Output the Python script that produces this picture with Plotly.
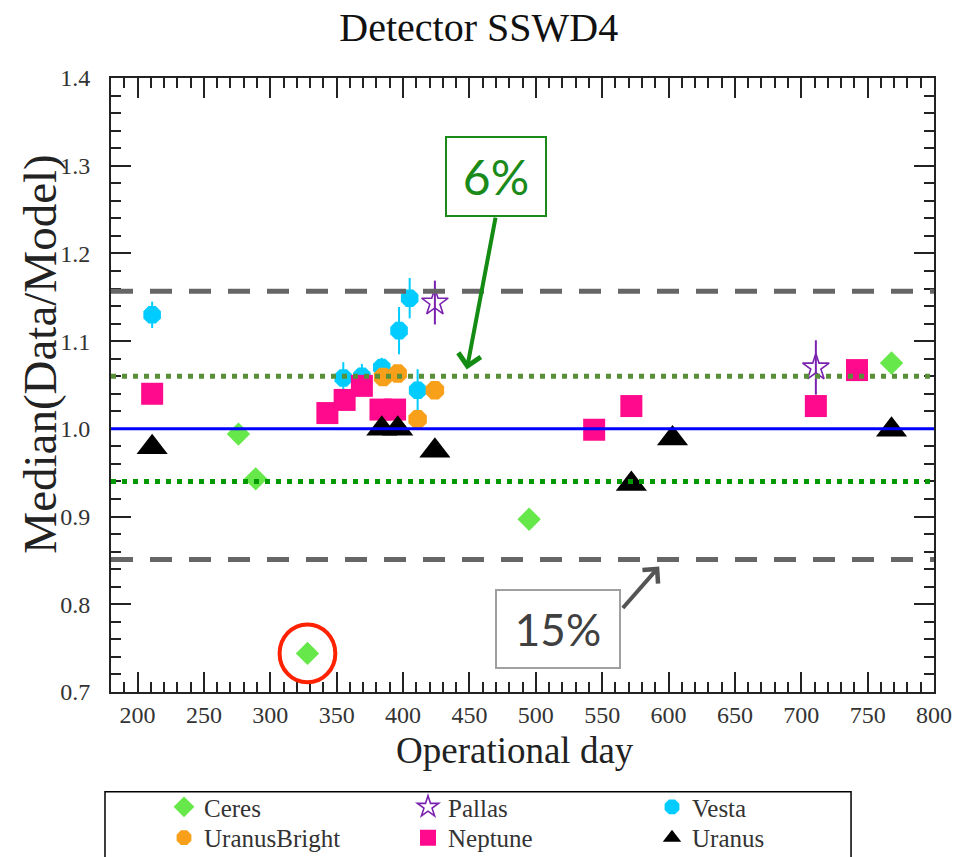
import plotly.graph_objects as go

# ---------------- data ----------------
ceres_day = [276, 289, 328, 495, 768]
ceres_val = [0.994, 0.943, 0.744, 0.897, 1.075]

pallas_day = [424, 711]
pallas_val = [1.144, 1.070]
pallas_err = [0.025, 0.031]

vesta_day = [211, 355, 369, 384, 397, 405, 411]
vesta_val = [1.130, 1.058, 1.060, 1.070, 1.112, 1.149, 1.044]
vesta_err = [0.015, 0.018, 0.014, 0.011, 0.027, 0.023, 0.024]

ub_day = [385, 396, 411, 424]
ub_val = [1.059, 1.063, 1.011, 1.044]

nep_day = [211, 343, 356, 369, 383, 394, 544, 572, 711, 742]
nep_val = [1.040, 1.018, 1.033, 1.049, 1.022, 1.022, 0.999, 1.026, 1.026, 1.067]

ura_day = [211, 384, 396, 424, 572, 603, 768]
ura_val = [0.979, 1.000, 1.000, 0.975, 0.937, 0.989, 0.999]

ref_unity = 1.0
ref_6pct = [1.06, 0.94]
ref_15pct = [1.157, 0.851]

x_ticks = [200, 250, 300, 350, 400, 450, 500, 550, 600, 650, 700, 750, 800]
y_ticks = [0.7, 0.8, 0.9, 1.0, 1.1, 1.2, 1.3, 1.4]

SERIF = "Liberation Serif, Times New Roman, Times, serif"
SANS = "Lato, Open Sans, sans-serif"

fig = go.Figure()

fig.add_trace(go.Scatter(x=ceres_day, y=ceres_val, mode="markers", name="Ceres", legend="legend",
                         marker=dict(symbol="diamond", size=18, color="#66e84a")))
fig.add_trace(go.Scatter(x=pallas_day, y=pallas_val, mode="markers", name="Pallas", legend="legend",
                         error_y=dict(type="data", array=pallas_err, color="#7a22b0", thickness=2, width=0),
                         marker=dict(symbol="star-open", size=20, color="#7a22b0", line=dict(width=1.6))))
fig.add_trace(go.Scatter(x=vesta_day, y=vesta_val, mode="markers", name="Vesta", legend="legend",
                         error_y=dict(type="data", array=vesta_err, color="#00ccff", thickness=2, width=0),
                         marker=dict(symbol="octagon", size=19, color="#00ccff")))
fig.add_trace(go.Scatter(x=ub_day, y=ub_val, mode="markers", name="UranusBright", legend="legend2",
                         marker=dict(symbol="octagon", size=20, color="#f9a01b")))
fig.add_trace(go.Scatter(x=nep_day, y=nep_val, mode="markers", name="Neptune", legend="legend2",
                         marker=dict(symbol="square", size=22, color="#ff0a8c")))
fig.add_trace(go.Scatter(x=ura_day, y=ura_val, mode="markers", name="Uranus", legend="legend2",
                         marker=dict(symbol="triangle-up", size=27, color="black")))

# reference lines
fig.add_hline(y=ref_15pct[0], line=dict(color="#666666", width=5, dash="22px,17px"))
fig.add_hline(y=ref_15pct[1], line=dict(color="#666666", width=5, dash="22px,17px"))
fig.add_hline(y=ref_6pct[0], line=dict(color="#5a8f3a", width=5, dash="5px,6px"))
fig.add_hline(y=ref_6pct[1], line=dict(color="#009900", width=5, dash="5px,6px"))
fig.add_hline(y=ref_unity, line=dict(color="#0000ff", width=3))

# red circle around the lowest Ceres point
i_min = ceres_val.index(min(ceres_val))
cx, cy = ceres_day[i_min], ceres_val[i_min]
fig.add_shape(type="circle", xref="x", yref="y",
              x0=cx - 21, x1=cx + 21, y0=cy - 0.033, y1=cy + 0.033,
              line=dict(color="#ff2200", width=4))

# 6% annotation box and arrow
fig.add_annotation(xref="paper", yref="paper", x=0.4676, y=0.840, xanchor="center", yanchor="middle",
                   text="6%", showarrow=False, font=dict(family=SANS, size=48, color="#1a8a1a"),
                   bordercolor="#1a8a1a", borderwidth=2, borderpad=0, width=98, height=77,
                   bgcolor="white")
fig.add_annotation(xref="x", yref="y", axref="x", ayref="y",
                   x=448, y=ref_6pct[0] + 0.0076, ax=469.9, ay=1.2424, text="",
                   showarrow=True, arrowhead=4, arrowsize=1.1, arrowwidth=4, arrowcolor="#148c14",
                   standoff=0)

# 15% annotation box and arrow
fig.add_annotation(xref="paper", yref="paper", x=0.5437, y=0.1021, xanchor="center", yanchor="middle",
                   text="15%", showarrow=False, font=dict(family=SANS, size=44, color="#404040"),
                   bordercolor="#a0a0a0", borderwidth=2, borderpad=0, width=122, height=76,
                   bgcolor="white")
fig.add_annotation(xref="x", yref="y", axref="x", ayref="y",
                   x=593, y=ref_15pct[1] - 0.008, ax=564.6, ay=0.794, text="",
                   showarrow=True, arrowhead=4, arrowsize=1, arrowwidth=4, arrowcolor="#555555",
                   standoff=0)

# axis titles (placed as in the reference)
fig.add_annotation(xref="paper", yref="paper", x=-0.0863, y=0.551, xanchor="center", yanchor="middle",
                   text="Median(Data/Model)", textangle=-90, showarrow=False,
                   font=dict(family=SERIF, size=47, color="#222222"))
fig.add_annotation(xref="paper", yref="paper", x=0.491, y=-0.0945, xanchor="center", yanchor="middle",
                   text="Operational day", showarrow=False,
                   font=dict(family=SERIF, size=37, color="#222222"))

# legend frame
fig.add_shape(type="rect", xref="paper", yref="paper",
              x0=-0.0073, x1=0.8992, y0=-0.1625, y1=-0.31,
              line=dict(color="black", width=1.5), fillcolor="rgba(0,0,0,0)", layer="below")

axis_common = dict(showline=True, linecolor="#222222", linewidth=2, mirror="allticks",
                   ticks="inside", ticklen=20, tickwidth=1.5, tickcolor="#222222",
                   showgrid=False, zeroline=False, automargin=False,
                   tickfont=dict(family=SERIF, size=24, color="#333333"))

fig.update_xaxes(range=[180, 800], tickvals=x_ticks,
                 minor=dict(dtick=10, tick0=200, ticks="inside", ticklen=10, tickwidth=1.5,
                            tickcolor="#222222", showgrid=False),
                 ticklabelstandoff=0, **axis_common)
fig.update_yaxes(range=[0.7, 1.4], tickvals=y_ticks, tickformat=".1f",
                 minor=dict(dtick=0.02, tick0=0.7, ticks="inside", ticklen=10, tickwidth=1.5,
                            tickcolor="#222222", showgrid=False),
                 ticklabelstandoff=14, **axis_common)

legend_common = dict(orientation="h", x=0.0644, xanchor="left", yanchor="top",
                     entrywidth=199, entrywidthmode="pixels", bgcolor="rgba(0,0,0,0)",
                     borderwidth=0, font=dict(family=SERIF, size=25, color="#333333"),
                     tracegroupgap=0)

fig.update_layout(
    width=973, height=857,
    margin=dict(l=111, r=39, t=78, b=165, autoexpand=False),
    paper_bgcolor="white", plot_bgcolor="white",
    title=dict(text="Detector SSWD4", x=0.492, xanchor="center", y=0.9685, yanchor="middle",
               font=dict(family=SERIF, size=40, color="#111111")),
    showlegend=True,
    legend=dict(y=-0.1500, **legend_common),
    legend2=dict(y=-0.2003, **legend_common),
)

fig.write_html("out.html", config={"displayModeBar": False},
               post_script="document.body.style.margin='0px';")
